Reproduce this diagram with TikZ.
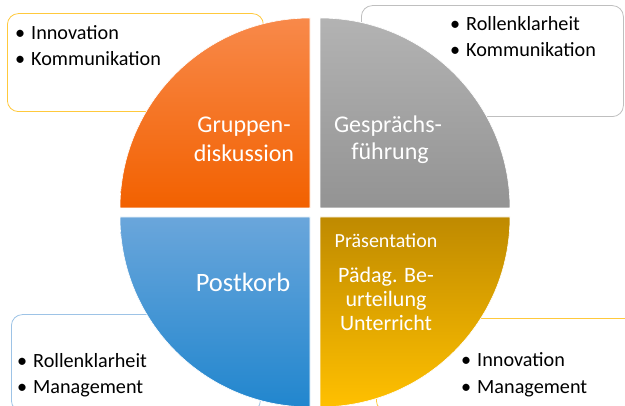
\documentclass[tikz,border=0pt]{standalone}
\usepackage{fontspec}
\setmainfont{Carlito}
\definecolor{orTop}{HTML}{F8894A}
\definecolor{orMid}{HTML}{FF7400}
\definecolor{orBot}{HTML}{F26100}
\definecolor{grTop}{HTML}{B3B3B3}
\definecolor{grMid}{HTML}{A6A6A6}
\definecolor{grBot}{HTML}{939393}
\definecolor{blTop}{HTML}{6AA6DB}
\definecolor{blBot}{HTML}{2186CE}
\definecolor{gdTop}{HTML}{BF8A00}
\definecolor{gdBot}{HTML}{FFC000}
\definecolor{yelLine}{HTML}{FFC93C}
\definecolor{grayLine}{HTML}{BFBFBF}
\definecolor{blueLine}{HTML}{9DC3E6}
\begin{document}
\begin{tikzpicture}[x=1pt,y=1pt,
  box/.style={draw, line width=0.8pt, rounded corners=11pt, fill=white, inner sep=0pt, anchor=south west},
  item/.style={anchor=base west, inner sep=0pt, font=\fontsize{20.2}{23}\selectfont},
  lbl/.style={anchor=base, inner sep=0pt, text=white},
  quad/.style={draw=white, line width=0.6pt}
]
\useasboundingbox (0,0) rectangle (625,406);
% callout boxes
\node[box, draw=yelLine, minimum width=256, minimum height=98] (tlbox) at (7,294) {};
\node[box, draw=grayLine, minimum width=262, minimum height=111] (trbox) at (361,289) {};
\node[box, draw=blueLine, minimum width=249, minimum height=97] (blbox) at (11,-6) {};
\node[box, draw=yelLine, minimum width=260, minimum height=93] (brbox) at (376,-6) {};
% quadrants
\path[quad, top color=orTop, middle color=orMid, bottom color=orBot]
  (310,198) -- ++(-190,0) arc[start angle=180, end angle=90, radius=190] -- cycle;
\path[quad, top color=grTop, middle color=grMid, bottom color=grBot]
  (320,198) -- ++(0,190) arc[start angle=90, end angle=0, radius=190] -- cycle;
\path[quad, top color=blTop, bottom color=blBot]
  (310,189) -- ++(0,-190) arc[start angle=270, end angle=180, radius=190] -- cycle;
\path[quad, top color=gdTop, bottom color=gdBot]
  (320,189) -- ++(190,0) arc[start angle=0, end angle=-90, radius=190] -- cycle;
% bullet texts
\node[item] (tl1) at (31,366.5) {\llap{•\hspace{6pt}}Innovation};
\node[item] (tl2) at (31,340) {\llap{•\hspace{6pt}}Kommunikation};
\node[item] (tr1) at (466,375) {\llap{•\hspace{6pt}}Rollenklarheit};
\node[item] (tr2) at (466,349) {\llap{•\hspace{6pt}}Kommunikation};
\node[item] (bl1) at (33,38) {\llap{•\hspace{6pt}}Rollenklarheit};
\node[item] (bl2) at (33,12) {\llap{•\hspace{6pt}}Management};
\node[item] (br1) at (477,39) {\llap{•\hspace{6pt}}Innovation};
\node[item] (br2) at (477,12) {\llap{•\hspace{6pt}}Management};
% quadrant labels
\node[lbl, font=\fontsize{24}{29}\selectfont] (g1) at (244,273) {Gruppen-};
\node[lbl, font=\fontsize{24}{29}\selectfont] (g2) at (244,244) {diskussion};
\node[lbl, font=\fontsize{24}{29}\selectfont] (h1) at (388,273) {Gesprächs-};
\node[lbl, font=\fontsize{24}{29}\selectfont] (h2) at (390,246) {führung};
\node[lbl, font=\fontsize{26.5}{30}\selectfont] (p1) at (243,114) {Postkorb};
\node[lbl, font=\fontsize{20}{24}\selectfont] (s1) at (386,158) {Präsentation};
\node[lbl, font=\fontsize{22}{24}\selectfont] (s2) at (386,123) {Pädag. Be-};
\node[lbl, font=\fontsize{22}{24}\selectfont] (s3) at (386,99) {urteilung};
\node[lbl, font=\fontsize{22}{24}\selectfont] (s4) at (386,75) {Unterricht};
\end{tikzpicture}
\end{document}
